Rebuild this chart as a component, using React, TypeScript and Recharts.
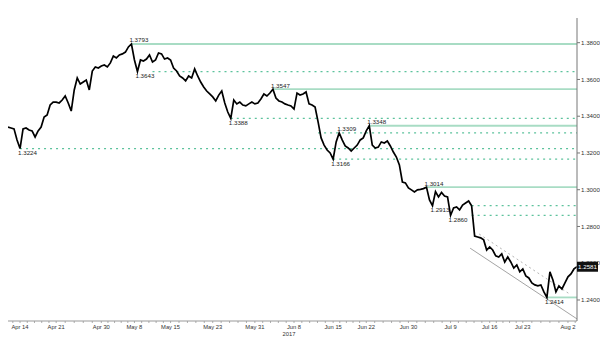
import { LineChart, Line, XAxis, YAxis, ReferenceLine, ReferenceDot } from "recharts";

// hourly-ish closes, one every ~3px of the original chart
const prices = [
  1.3341, 1.3336, 1.3331, 1.3271, 1.3224, 1.3331, 1.3336, 1.3325, 1.332, 1.3287,
  1.332, 1.3341, 1.3396, 1.3407, 1.3461, 1.3477, 1.3477, 1.3472, 1.3488, 1.351,
  1.3472, 1.3428, 1.3543, 1.3608, 1.3575, 1.3586, 1.3597, 1.3543, 1.3646, 1.3668,
  1.3662, 1.3673, 1.3679, 1.3668, 1.369, 1.3728, 1.3717, 1.3733, 1.3739, 1.3749,
  1.3777, 1.3793, 1.3706, 1.3643, 1.3706, 1.37, 1.3711, 1.3733, 1.3695, 1.3706,
  1.3744, 1.3739, 1.3711, 1.3717, 1.3706, 1.3662, 1.3646, 1.3619, 1.3608, 1.3592,
  1.3619, 1.3608, 1.3657, 1.3619, 1.3586, 1.3559, 1.3537, 1.3521, 1.3505, 1.3483,
  1.3515, 1.3537, 1.3472, 1.3423, 1.3388, 1.3488, 1.3467, 1.3477, 1.3461, 1.3456,
  1.3467, 1.3477, 1.3467, 1.3472, 1.3494, 1.3521, 1.351, 1.3526, 1.3547, 1.3499,
  1.3483, 1.3477, 1.3467, 1.3461, 1.3456, 1.3439, 1.3526, 1.3515, 1.3521, 1.3532,
  1.3467, 1.3461, 1.345, 1.3369, 1.3282, 1.3243, 1.3216, 1.32, 1.3166, 1.326,
  1.3309, 1.3271, 1.3238, 1.3227, 1.3211, 1.3227, 1.3243, 1.3271, 1.3282, 1.332,
  1.3348, 1.3243, 1.3227, 1.3232, 1.326, 1.3254, 1.3265, 1.3238, 1.3205, 1.3178,
  1.3135, 1.3042, 1.3037, 1.301, 1.2999, 1.2988, 1.2999, 1.3002, 1.3006, 1.3014,
  1.2944, 1.2913, 1.299, 1.2961, 1.2985, 1.2966, 1.2961, 1.286, 1.2901, 1.2906,
  1.289, 1.2917, 1.2928, 1.2939, 1.2912, 1.2748, 1.2743, 1.2738, 1.2727, 1.2672,
  1.2689, 1.2672, 1.264, 1.2634, 1.2651, 1.2607, 1.2634, 1.2607, 1.2574, 1.2591,
  1.2553, 1.2569, 1.2531, 1.252, 1.2493, 1.2482, 1.2477, 1.2482, 1.2444, 1.2414,
  1.2553, 1.2509, 1.2444, 1.2477, 1.246, 1.2493, 1.2526, 1.2542, 1.2569, 1.2581
];

const dateTickIdx = [4, 16, 31, 42, 54, 68, 82, 95, 108, 119, 133, 147, 160, 171, 186];
const dateTickLabels = [
  "Apr 14", "Apr 21", "Apr 30", "May 8", "May 15", "May 23", "May 31", "Jun 8",
  "Jun 15", "Jun 22", "Jun 30", "Jul 9", "Jul 16", "Jul 23", "Aug 2"
];
const yearTick = "Jun 8";
const yearLabel = "2017";

const priceTicks = [1.24, 1.26, 1.28, 1.3, 1.32, 1.34, 1.36, 1.38];

// support / resistance levels
const levelValues = [1.3793, 1.3643, 1.3547, 1.3388, 1.3348, 1.3309, 1.3224, 1.3166, 1.3014, 1.2913, 1.286, 1.2414];
const levelPivot = [41, 43, 88, 74, 120, 110, 4, 108, 139, 141, 147, 179];
const levelFrom = [41, 48, 88, 74, 120, 103, 4, 108, 139, 154, 154, 179];
const levelMajor = [true, false, true, false, true, false, false, false, true, false, false, true];
const levelIsHigh = [true, false, true, false, true, true, false, false, true, false, false, false];

// falling channel
const channelLow = [
  { x: 153.5, y: 1.2682 },
  { x: 189, y: 1.2297 }
];
const channelHigh = [
  { x: 156.5, y: 1.2759 },
  { x: 186.7, y: 1.2431 }
];

const data = prices.map((price, i) => ({ i, price }));
const lastIdx = prices.length - 1;
const lastPrice = prices[lastIdx];

const minorTicks: number[] = [];
minorTicks.push(dateTickIdx[0] - 2.4);
dateTickIdx.forEach((t, k) => {
  minorTicks.push(t);
  const next = dateTickIdx[k + 1];
  if (next !== undefined) {
    for (let j = 1; j < 5; j++) minorTicks.push(t + ((next - t) * j) / 5);
  }
});
minorTicks.push(dateTickIdx[dateTickIdx.length - 1] + 2.4);

function DateTick(props: any) {
  const { x, y, payload } = props;
  const k = dateTickIdx.indexOf(payload.value);
  return (
    <g>
      <line x1={x} x2={x} y1={y} y2={y + 2} stroke="#999" strokeWidth={0.8} />
      {k >= 0 && (
        <text x={x} y={y + 7.5} textAnchor="middle" fontSize={5.8} fill="#333">
          {dateTickLabels[k]}
        </text>
      )}
      {k >= 0 && dateTickLabels[k] === yearTick && (
        <text x={x - 5} y={y + 14.5} textAnchor="middle" fontSize={5.8} fill="#333">
          {yearLabel}
        </text>
      )}
    </g>
  );
}

// last price tick is drawn last so its black box sits over the 1.2600 label
function PriceTick(props: any) {
  const { x, y, payload } = props;
  const v = payload.value;
  if (v === lastPrice) {
    return (
      <g>
        <rect x={x - 4} y={y - 5} width={21} height={10} fill="#111" />
        <text x={x + 6.5} y={y + 2.2} textAnchor="middle" fontSize={6.2} fill="#fff">
          {v.toFixed(4)}
        </text>
      </g>
    );
  }
  return (
    <text x={x} y={y + 2.2} fontSize={6.2} fill="#333">
      {v.toFixed(4)}
    </text>
  );
}

const levelLabel = (text: string, high: boolean) => (props: any) => {
  const { viewBox } = props;
  const cx = viewBox.x + viewBox.width / 2;
  const cy = viewBox.y + viewBox.height / 2;
  return (
    <text x={cx - 2} y={high ? cy - 1.5 : cy + 6.5} fontSize={6.2} fill="#222">
      {text}
    </text>
  );
};

export default function App() {
  return (
    <div style={{ width: 600, height: 341, fontFamily: "'Liberation Sans', Arial, sans-serif", background: "#fff" }}>
      <style>{`body{margin:0}`}</style>
      <LineChart width={600} height={341} data={data} margin={{ top: 18, right: 0, bottom: 0, left: 8 }}>
        <XAxis
          dataKey="i"
          type="number"
          domain={[0, lastIdx]}
          ticks={minorTicks}
          interval={0}
          tick={<DateTick />}
          tickLine={false}
          tickSize={0}
          tickMargin={0}
          axisLine={{ stroke: "#999" }}
          height={20}
          allowDataOverflow
        />
        <YAxis
          orientation="right"
          type="number"
          domain={[1.22857, 1.39344]}
          allowDataOverflow
          ticks={[...priceTicks, lastPrice]}
          interval={0}
          tick={<PriceTick />}
          axisLine={{ stroke: "#777" }}
          tickLine={{ stroke: "#777" }}
          tickSize={3}
          tickMargin={1}
          width={23}
        />
        {levelValues.map((v, k) => (
          <ReferenceLine
            key={`lv${k}`}
            segment={[
              { x: levelFrom[k], y: v },
              { x: lastIdx, y: v }
            ]}
            stroke={levelMajor[k] ? "#a8dcc4" : "#5cc29c"}
            strokeWidth={levelMajor[k] ? 1.8 : 1.2}
            strokeDasharray={levelMajor[k] ? undefined : "2 4"}
          />
        ))}
        <ReferenceLine segment={channelLow} stroke="#9a9a9a" strokeWidth={0.9} />
        <ReferenceLine segment={channelHigh} stroke="#aaa" strokeWidth={0.9} strokeDasharray="2 3" />
        <Line
          type="linear"
          dataKey="price"
          stroke="#000"
          strokeWidth={1.7}
          dot={false}
          isAnimationActive={false}
        />
        {levelValues.map((v, k) => (
          <ReferenceDot
            key={`lb${k}`}
            x={levelPivot[k]}
            y={v}
            r={0}
            fill="none"
            stroke="none"
            label={levelLabel(v.toFixed(4), levelIsHigh[k])}
          />
        ))}
      </LineChart>
    </div>
  );
}
